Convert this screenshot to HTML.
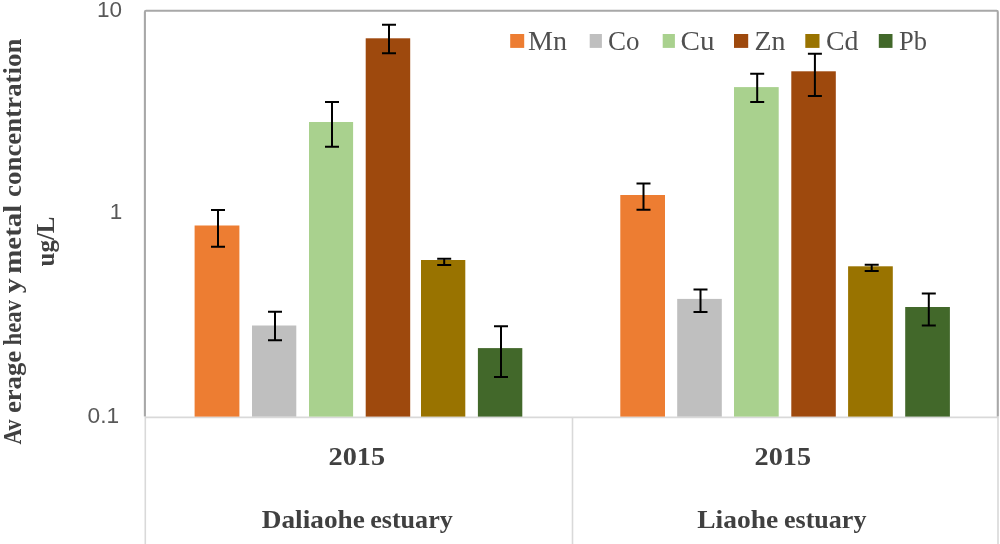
<!DOCTYPE html>
<html>
<head>
<meta charset="utf-8">
<title>Average heavy metal concentration</title>
<style>
  html, body { margin: 0; padding: 0; background: #ffffff; }
  body { width: 1000px; height: 544px; overflow: hidden; font-family: "Liberation Sans", sans-serif; }
  svg { display: block; }
  .ax  { font-family: "Liberation Sans", sans-serif; font-size: 22.5px; fill: #595959; }
  .lg  { font-family: "Liberation Serif", serif; font-size: 26.5px; fill: #505050; }
  .cat { font-family: "Liberation Serif", serif; font-size: 26px; font-weight: bold; fill: #404040; }
  .yt  { font-family: "Liberation Serif", serif; font-size: 26px; font-weight: bold; fill: #404040; }
  .eb  { stroke: #000000; stroke-width: 2; fill: none; }
</style>
</head>
<body>
<svg width="1000" height="544" viewBox="0 0 1000 544">
  <defs><filter id="soft" x="0" y="0" width="1000" height="544" filterUnits="userSpaceOnUse"><feGaussianBlur stdDeviation="0.5"/></filter></defs>
  <rect x="0" y="0" width="1000" height="544" fill="#ffffff"/>
  <g filter="url(#soft)">
  <rect x="0" y="0" width="1000" height="544" fill="#ffffff"/>

  <!-- category axis / multi-level label dividers (light) -->
  <g stroke="#d9d9d9" stroke-width="1.6" fill="none">
    <line x1="145" y1="417.4" x2="998.3" y2="417.4"/>
    <line x1="145.3" y1="417" x2="145.3" y2="544"/>
    <line x1="572.5" y1="417" x2="572.5" y2="544"/>
    <line x1="998" y1="417" x2="998" y2="544"/>
  </g>

  <!-- plot frame (left, top, right) -->
  <path d="M144.9,416.6 L144.9,11.9 Q144.9,10.7 146.1,10.7 L996.6,10.7 Q997.8,10.7 997.8,11.9 L997.8,416.6" stroke="#a8a8a8" stroke-width="2.1" fill="none"/>

  <!-- bars group 1 : Daliaohe estuary -->
  <rect x="194.6" y="225.5" width="44.8" height="191.1" fill="#ed7d31"/>
  <rect x="252" y="325.5" width="44.3" height="91.1" fill="#bfbfbf"/>
  <rect x="309" y="122" width="44.1" height="294.6" fill="#a9d18e"/>
  <rect x="365.7" y="38.3" width="44.5" height="378.3" fill="#9e480e"/>
  <rect x="421" y="260" width="44.3" height="156.6" fill="#997300"/>
  <rect x="477.9" y="348.1" width="44.4" height="68.5" fill="#43682b"/>

  <!-- bars group 2 : Liaohe estuary -->
  <rect x="620.3" y="195" width="44.7" height="221.6" fill="#ed7d31"/>
  <rect x="677.2" y="298.9" width="44.6" height="117.7" fill="#bfbfbf"/>
  <rect x="734" y="87.1" width="44.7" height="329.5" fill="#a9d18e"/>
  <rect x="791.3" y="71.3" width="44.5" height="345.3" fill="#9e480e"/>
  <rect x="848.1" y="266.3" width="44.7" height="150.3" fill="#997300"/>
  <rect x="905.2" y="307" width="44.7" height="109.6" fill="#43682b"/>

  <!-- error bars group 1 -->
  <g class="eb">
    <path d="M211,210.1 H225 M218,210.1 V246.7 M211,246.7 H225"/>
    <path d="M268,311.8 H282 M275,311.8 V340.3 M268,340.3 H282"/>
    <path d="M325,102.1 H339 M332,102.1 V146.8 M325,146.8 H339"/>
    <path d="M382,24.8 H396 M389,24.8 V53.3 M382,53.3 H396"/>
    <path d="M437.2,258.8 H451.2 M444.2,258.8 V265.1 M437.2,265.1 H451.2"/>
    <path d="M494,326.2 H508 M501,326.2 V376.9 M494,376.9 H508"/>
  </g>
  <!-- error bars group 2 -->
  <g class="eb">
    <path d="M636.5,183.4 H650.5 M643.5,183.4 V209.8 M636.5,209.8 H650.5"/>
    <path d="M693.5,289.4 H707.5 M700.5,289.4 V312.1 M693.5,312.1 H707.5"/>
    <path d="M750.2,73.7 H764.2 M757.2,73.7 V102 M750.2,102 H764.2"/>
    <path d="M807.9,53.8 H821.9 M814.9,53.8 V95.9 M807.9,95.9 H821.9"/>
    <path d="M864.7,264.8 H878.7 M871.7,264.8 V270.9 M864.7,270.9 H878.7"/>
    <path d="M921.8,293.5 H935.8 M928.8,293.5 V325.6 M921.8,325.6 H935.8"/>
  </g>

  <!-- value axis labels -->
  <text class="ax" x="122.1" y="17" text-anchor="end">10</text>
  <text class="ax" x="122.3" y="219.2" text-anchor="end">1</text>
  <text class="ax" x="87.6" y="422.5" textLength="31.6" lengthAdjust="spacingAndGlyphs">0.1</text>

  <!-- legend -->
  <rect x="510.2" y="34" width="14" height="13.9" fill="#ed7d31"/>
  <text class="lg" x="528" y="50.2" textLength="39" lengthAdjust="spacingAndGlyphs">Mn</text>
  <rect x="589.7" y="34" width="12.2" height="13.9" fill="#bfbfbf"/>
  <text class="lg" x="608" y="50.2" textLength="31.5" lengthAdjust="spacingAndGlyphs">Co</text>
  <rect x="662.7" y="34" width="12.2" height="13.9" fill="#a9d18e"/>
  <text class="lg" x="680.5" y="50.2" textLength="34" lengthAdjust="spacingAndGlyphs">Cu</text>
  <rect x="734" y="34" width="14.2" height="13.9" fill="#9e480e"/>
  <text class="lg" x="754.5" y="50.2" textLength="31" lengthAdjust="spacingAndGlyphs">Zn</text>
  <rect x="805.3" y="34" width="14.2" height="13.9" fill="#997300"/>
  <text class="lg" x="826" y="50.2" textLength="32.5" lengthAdjust="spacingAndGlyphs">Cd</text>
  <rect x="878.8" y="34" width="13.7" height="13.9" fill="#43682b"/>
  <text class="lg" x="899" y="50.2" textLength="28" lengthAdjust="spacingAndGlyphs">Pb</text>

  <!-- category labels -->
  <text class="cat" x="328.5" y="465" textLength="56.5" lengthAdjust="spacingAndGlyphs">2015</text>
  <text class="cat" x="754.5" y="465" textLength="56.5" lengthAdjust="spacingAndGlyphs">2015</text>
  <text class="cat" x="261.8" y="528" textLength="103" lengthAdjust="spacingAndGlyphs">Daliaohe</text>
  <text class="cat" x="370.2" y="528" textLength="82.6" lengthAdjust="spacingAndGlyphs">estuary</text>
  <text class="cat" x="697.2" y="528" textLength="81" lengthAdjust="spacingAndGlyphs">Liaohe</text>
  <text class="cat" x="784" y="528" textLength="82.4" lengthAdjust="spacingAndGlyphs">estuary</text>

  <!-- value axis title (rotated) -->
  <text class="yt" transform="translate(20.9,444.6) rotate(-90)" textLength="25.0" lengthAdjust="spacingAndGlyphs">Av</text>
  <text class="yt" transform="translate(20.9,413.1) rotate(-90)" textLength="62.3" lengthAdjust="spacingAndGlyphs">erage</text>
  <text class="yt" transform="translate(20.9,345.5) rotate(-90)" textLength="45.5" lengthAdjust="spacingAndGlyphs">heav</text>
  <text class="yt" transform="translate(20.9,293.2) rotate(-90)" textLength="15.0" lengthAdjust="spacingAndGlyphs">y</text>
  <text class="yt" transform="translate(20.9,273.7) rotate(-90)" textLength="69.0" lengthAdjust="spacingAndGlyphs">metal</text>
  <text class="yt" transform="translate(20.9,196.9) rotate(-90)" textLength="158.3" lengthAdjust="spacingAndGlyphs">concentration</text>
  <text class="yt" transform="translate(53.8,266.5) rotate(-90)" textLength="50" lengthAdjust="spacingAndGlyphs">ug/L</text>
  </g>
</svg>
</body>
</html>
